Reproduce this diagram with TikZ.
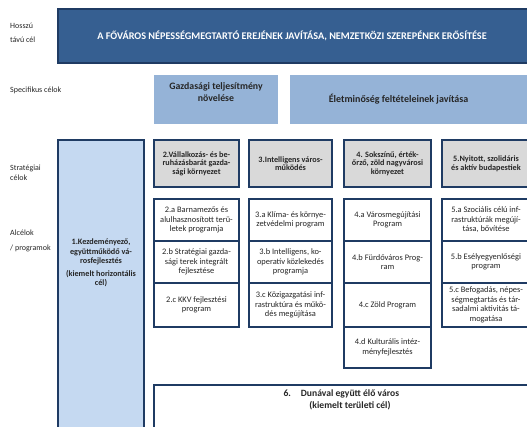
\documentclass[tikz,border=0pt]{standalone}
\usepackage{fontspec}
\setmainfont{Carlito}
\usepackage{xcolor}
\usetikzlibrary{positioning}
\definecolor{navy}{HTML}{1F3B63}
\definecolor{headblue}{HTML}{365F91}
\definecolor{specblue}{HTML}{95B3D7}
\definecolor{horblue}{HTML}{C5D9F1}
\definecolor{stratgray}{HTML}{D9D9D9}
\tikzstyle{row label}=[anchor=west,inner sep=0pt,text=black!85,font=\fontsize{8}{9}\selectfont]
\tikzstyle{box}=[rectangle,inner sep=0pt,outer sep=0pt,align=center,text=black!85]
\tikzstyle{head box}=[box,draw=navy,line width=1.8pt,fill=headblue]
\tikzstyle{spec box}=[box,fill=specblue]
\tikzstyle{strat box}=[box,draw=navy,line width=2.2pt,fill=stratgray,minimum height=47pt,font=\bfseries\fontsize{8.2}{8.6}\selectfont]
\tikzstyle{sub cell}=[box,fill=white,font=\fontsize{8.4}{9.6}\selectfont]
\tikzstyle{col frame}=[draw=navy,line width=2.2pt]
\tikzstyle{divider}=[draw=navy,line width=1.2pt]

\begin{document}
\begin{tikzpicture}[x=1pt,y=-1pt]
    \clip (0,0) rectangle (527,427);

    % Row labels
    \foreach \y/\name/\txt in {26/lbl_hossz/Hosszú, 40/lbl_tav/távú cél,
                               90/lbl_spec/Specifikus célok,
                               168/lbl_strat/Stratégiai, 178/lbl_cel/célok,
                               233/lbl_alc/Alcélok, 248/lbl_prog/{/ programok}}
        \node[row label] (\name) at (10,\y) {\txt};

    % Long-term goal
    \node[head box, minimum width=482pt, minimum height=54pt] (head) at (299,36) {};
    \node[box, text=white, font=\bfseries\fontsize{10.2}{12}\selectfont] (head_txt) at (292,36)
        {A FŐVÁROS NÉPESSÉGMEGTARTÓ EREJÉNEK JAVÍTÁSA, NEMZETKÖZI SZEREPÉNEK ERŐSÍTÉSE};

    % Specific goals
    \node[spec box, minimum width=124pt, minimum height=49pt] (spec_gazd) at (216,99.5) {};
    \node[box, font=\bfseries\fontsize{9.8}{11.5}\selectfont] (gazd_txt) at (216,92)
        {Gazdasági teljesítmény\\növelése};
    \node[spec box, minimum width=250pt, minimum height=49pt] (spec_elet) at (415,99.5) {};
    \node[box, font=\bfseries\fontsize{10}{12}\selectfont] (elet_txt) at (398.5,99)
        {Életminőség feltételeinek javítása};

    % Horizontal goal
    \node[box, draw=navy, line width=2.2pt, fill=horblue, minimum width=86pt, minimum height=300pt] (hor) at (101,290) {};
    \node[box, font=\bfseries\fontsize{8.2}{9.4}\selectfont] (hor_txt) at (101,263)
        {1.Kezdeményező,\\együttműködő vá-\\rosfejlesztés\\[3pt](kiemelt horizontális\\cél)};

    % Strategic goals
    \foreach \x/\w/\name/\txt in {196.5/85/strat_2/{2.Vállalkozás- és be-\\ruházásbarát gazda-\\sági környezet},
                                  290.5/83/strat_3/{3.Intelligens város-\\működés},
                                  387.5/87/strat_4/{4. Sokszínű, érték-\\őrző, zöld nagyvárosi\\környezet},
                                  486/88/strat_5/{5.Nyitott, szolidáris\\és aktív budapestiek}}
        \node[strat box, minimum width=\w pt] (\name) at (\x,163.5) {\txt};

    % Programmes
    \foreach \x/\y/\w/\h/\name/\txt in {
            196.5/220/85/42/sub_2a/{2.a Barnamezős és\\alulhasznosított terü-\\letek programja},
            196.5/262/85/42/sub_2b/{2.b Stratégiai gazda-\\sági terek integrált\\fejlesztése},
            196.5/305/85/44/sub_2c/{2.c KKV fejlesztési\\program},
            290.5/220/83/42/sub_3a/{3.a Klíma- és környe-\\zetvédelmi program},
            290.5/262/83/42/sub_3b/{3.b Intelligens, ko-\\operatív közlekedés\\programja},
            290.5/305/83/44/sub_3c/{3.c Közigazgatási inf-\\rastruktúra és műkö-\\dés megújítása},
            387.5/220/87/42/sub_4a/{4.a Városmegújítási\\Program},
            387.5/262/87/42/sub_4b/{4.b Fürdőváros Prog-\\ram},
            387.5/305/87/44/sub_4c/{4.c Zöld Program},
            387.5/347.5/87/41/sub_4d/{4.d Kulturális intéz-\\ményfejlesztés},
            486/220/88/42/sub_5a/{5.a Szociális célú inf-\\rastruktúrák megújí-\\tása, bővítése},
            486/262/88/42/sub_5b/{5.b Esélyegyenlőségi\\program},
            486/305/88/44/sub_5c/{5.c Befogadás, népes-\\ségmegtartás és tár-\\sadalmi aktivitás tá-\\mogatása}}
        \node[sub cell, minimum width=\w pt, minimum height=\h pt] (\name) at (\x,\y) {\txt};

    \foreach \cell in {sub_2a,sub_2b,sub_3a,sub_3b,sub_4a,sub_4b,sub_4c,sub_5a,sub_5b}
        \path[divider] (\cell.south west) -- (\cell.south east);
    \foreach \first/\last in {sub_2a/sub_2c, sub_3a/sub_3c, sub_4a/sub_4d, sub_5a/sub_5c}
        \path[col frame] (\first.north west) rectangle (\last.south east);

    % Territorial goal
    \node[box, draw=navy, line width=2.2pt, fill=white, minimum width=386pt, minimum height=75pt] (duna) at (347,422.5) {};
    \node[box, font=\bfseries\fontsize{9.6}{12}\selectfont] (duna_txt) at (350,400)
        {\llap{6.\hspace{10pt}}Dunával együtt élő város\\(kiemelt területi cél)};

\end{tikzpicture}
\end{document}
